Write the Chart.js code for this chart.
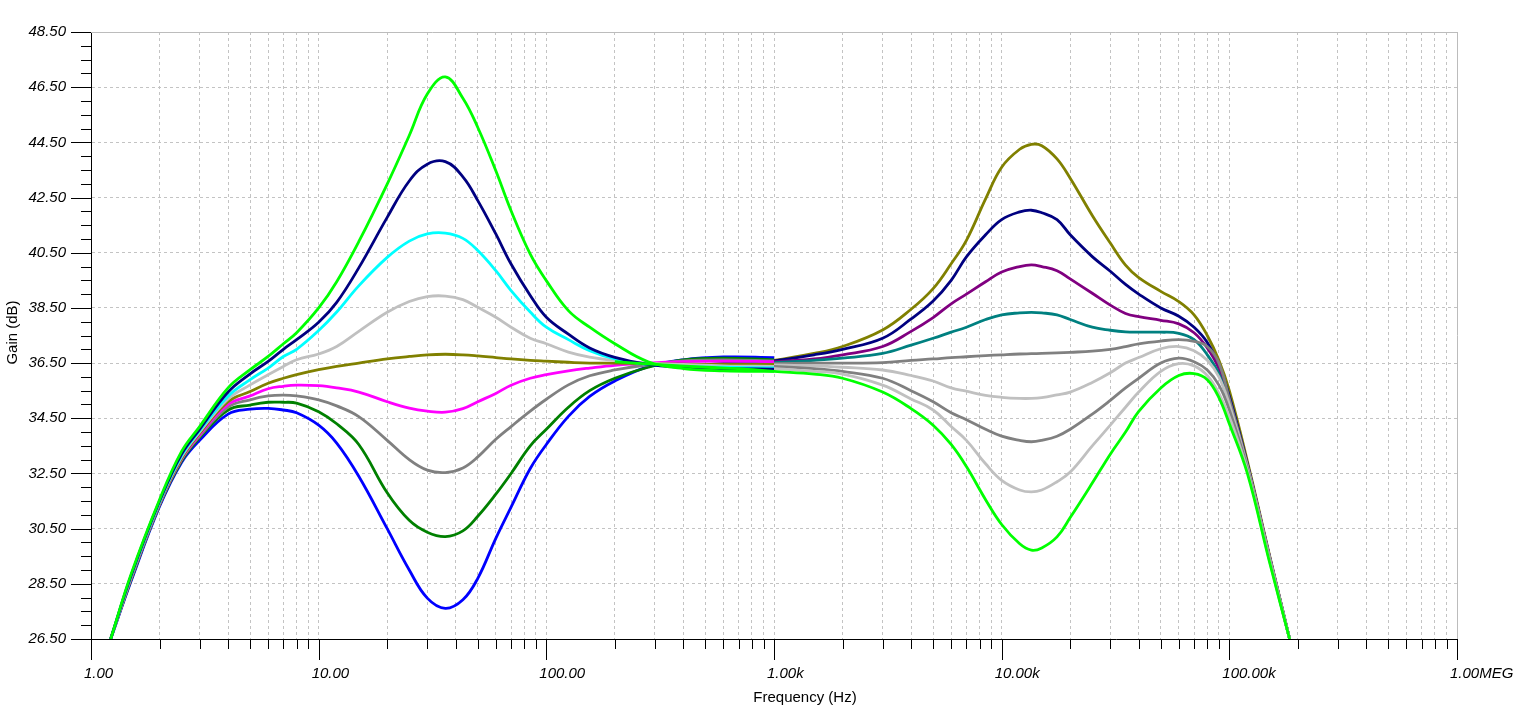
<!DOCTYPE html>
<html lang="ja">
<head>
<meta charset="UTF-8">
<title>Gain (dB) - Frequency (Hz)</title>
<script src="https://cdn.jsdelivr.net/npm/chart.js@4.4.1/dist/chart.umd.min.js"></script>
<style>
    html, body { margin: 0; padding: 0; background: #ffffff; }
    #gainChart { display: block; }
</style>
</head>
<body>
<canvas id="gainChart" width="1518" height="717"></canvas>
<script>
// 周波数（Hz）
const bassFreqs = [1.22, 1.5, 2, 2.5, 3, 4, 5, 6, 7, 8, 10, 12, 15, 20, 25, 30, 36, 43, 50, 60, 70, 85, 100, 125, 155, 200, 280, 400, 600, 1000];
const trebleFreqs = [200, 300, 500, 700, 1000, 1500, 2000, 3000, 4000, 5000, 6000, 7000, 8500, 10000, 12000, 13500, 15000, 17500, 20000, 25000, 30000, 35000, 40000, 50000, 60000, 70000, 80000, 90000, 100000, 120000, 150000, 184000];

// 低域ゲイン（dB）
const bassLime    = [26.5, 28.85, 31.55, 33.3, 34.2, 35.6, 36.26, 36.74, 37.2, 37.6, 38.5, 39.45, 40.9, 42.99, 44.75, 46.25, 46.87, 46.1, 45.04, 43.47, 42.02, 40.45, 39.49, 38.4, 37.8, 37.2, 36.55, 36.3, 36.22, 36.2];
const bassNavy    = [26.5, 28.8, 31.5, 33.2, 34.1, 35.45, 36.11, 36.56, 37.0, 37.35, 37.98, 38.7, 39.95, 41.78, 43.1, 43.71, 43.8, 43.25, 42.39, 41.18, 40.09, 38.95, 38.16, 37.55, 37.05, 36.71, 36.45, 36.35, 36.3, 36.28];
const bassCyan    = [26.5, 28.78, 31.47, 33.15, 34.05, 35.3, 35.9, 36.32, 36.74, 37.0, 37.68, 38.35, 39.3, 40.33, 40.92, 41.18, 41.21, 41.02, 40.58, 39.85, 39.13, 38.35, 37.8, 37.35, 36.95, 36.65, 36.45, 36.38, 36.35, 36.33];
const bassSilver  = [26.5, 28.75, 31.45, 33.1, 34.0, 35.2, 35.71, 36.08, 36.38, 36.62, 36.83, 37.1, 37.65, 38.34, 38.73, 38.91, 38.93, 38.8, 38.52, 38.16, 37.8, 37.4, 37.2, 36.9, 36.72, 36.6, 36.5, 36.45, 36.4, 36.38];
const bassOlive   = [26.5, 28.72, 31.42, 33.05, 33.95, 35.1, 35.47, 35.77, 35.95, 36.08, 36.26, 36.38, 36.5, 36.65, 36.74, 36.8, 36.82, 36.8, 36.76, 36.7, 36.65, 36.6, 36.57, 36.53, 36.5, 36.5, 36.48, 36.46, 36.45, 36.45];
const bassMagenta = [26.5, 28.7, 31.4, 33.02, 33.9, 35.0, 35.31, 35.57, 35.66, 35.7, 35.68, 35.6, 35.45, 35.1, 34.87, 34.76, 34.72, 34.85, 35.1, 35.4, 35.7, 35.95, 36.08, 36.22, 36.32, 36.42, 36.5, 36.55, 36.57, 36.55];
const bassGray    = [26.5, 28.68, 31.37, 33.0, 33.85, 34.9, 35.17, 35.31, 35.34, 35.31, 35.17, 34.95, 34.56, 33.7, 33.0, 32.62, 32.53, 32.7, 33.1, 33.74, 34.2, 34.76, 35.19, 35.71, 36.04, 36.25, 36.44, 36.58, 36.62, 36.58];
const bassGreen   = [26.5, 28.65, 31.35, 32.95, 33.8, 34.8, 34.98, 35.08, 35.08, 35.05, 34.74, 34.3, 33.55, 31.8, 30.8, 30.37, 30.21, 30.42, 30.95, 31.75, 32.5, 33.5, 34.1, 34.9, 35.5, 35.95, 36.35, 36.62, 36.68, 36.62];
const bassBlue    = [26.5, 28.6, 31.3, 32.9, 33.7, 34.65, 34.83, 34.86, 34.8, 34.7, 34.25, 33.6, 32.4, 30.5, 29.0, 27.98, 27.61, 27.92, 28.7, 30.15, 31.28, 32.68, 33.55, 34.57, 35.29, 35.85, 36.37, 36.62, 36.72, 36.7];

// 高域ゲイン（dB）
const trebleOlive   = [36.5, 36.45, 36.45, 36.5, 36.6, 36.85, 37.1, 37.7, 38.45, 39.2, 40.1, 40.95, 42.45, 43.6, 44.25, 44.43, 44.38, 43.9, 43.2, 41.85, 40.85, 40.05, 39.6, 39.1, 38.73, 38.25, 37.5, 36.6, 35.5, 32.95, 29.55, 26.5];
const trebleNavy    = [36.5, 36.45, 36.45, 36.5, 36.58, 36.8, 37.0, 37.4, 38.1, 38.75, 39.5, 40.35, 41.15, 41.7, 41.98, 42.04, 41.95, 41.7, 41.15, 40.36, 39.83, 39.35, 39.0, 38.5, 38.2, 37.8, 37.25, 36.4, 35.3, 32.85, 29.5, 26.5];
const treblePurple  = [36.5, 36.45, 36.45, 36.5, 36.55, 36.65, 36.8, 37.1, 37.65, 38.15, 38.65, 39.0, 39.45, 39.8, 40.0, 40.06, 40.0, 39.85, 39.55, 39.03, 38.6, 38.3, 38.18, 38.05, 37.92, 37.6, 37.05, 36.3, 35.1, 32.8, 29.5, 26.5];
const trebleTeal    = [36.5, 36.45, 36.45, 36.48, 36.52, 36.6, 36.68, 36.85, 37.15, 37.4, 37.62, 37.8, 38.08, 38.25, 38.32, 38.34, 38.32, 38.25, 38.08, 37.8, 37.69, 37.63, 37.62, 37.62, 37.58, 37.35, 36.8, 36.1, 34.95, 32.75, 29.45, 26.5];
const trebleGrayMid = [36.5, 36.45, 36.45, 36.45, 36.48, 36.5, 36.5, 36.52, 36.6, 36.65, 36.7, 36.73, 36.77, 36.8, 36.83, 36.84, 36.85, 36.87, 36.89, 36.93, 37.0, 37.1, 37.2, 37.3, 37.35, 37.29, 37.1, 36.5, 35.2, 32.8, 29.5, 26.5];
const trebleSilverA = [36.5, 36.45, 36.45, 36.45, 36.43, 36.4, 36.35, 36.25, 36.05, 35.85, 35.6, 35.48, 35.33, 35.26, 35.22, 35.22, 35.25, 35.35, 35.45, 35.8, 36.15, 36.5, 36.7, 37.02, 37.1, 36.95, 36.6, 36.0, 35.0, 32.75, 29.45, 26.5];
const trebleGray    = [36.55, 36.45, 36.45, 36.4, 36.38, 36.3, 36.2, 35.95, 35.5, 35.1, 34.7, 34.45, 34.1, 33.85, 33.7, 33.65, 33.7, 33.85, 34.1, 34.65, 35.15, 35.6, 35.95, 36.5, 36.68, 36.55, 36.25, 35.7, 34.8, 32.7, 29.4, 26.5];
const trebleSilverB = [36.55, 36.45, 36.4, 36.35, 36.3, 36.2, 36.1, 35.7, 35.2, 34.8, 34.2, 33.7, 32.85, 32.25, 31.9, 31.83, 31.9, 32.2, 32.55, 33.5, 34.25, 34.9, 35.45, 36.2, 36.48, 36.4, 36.05, 35.4, 34.55, 32.6, 29.35, 26.5];
const trebleLime    = [36.55, 36.45, 36.35, 36.3, 36.2, 36.1, 35.95, 35.45, 34.85, 34.25, 33.55, 32.75, 31.55, 30.65, 29.95, 29.72, 29.8, 30.2, 30.9, 32.15, 33.2, 34.0, 34.75, 35.6, 36.05, 36.12, 35.9, 35.25, 34.3, 32.5, 29.3, 26.5];

// 軸の目盛
const xDecades = [1, 10, 100, 1000, 10000, 100000, 1000000];
const xTickLabels = ['1.00', '10.00', '100.00', '1.00k', '10.00k', '100.00k', '1.00MEG'];
const xMinorSteps = [1, 2, 3, 4, 5, 6, 7, 8, 9];
const yMin = 26.5;
const yMax = 48.5;
const yMajorStep = 2;
const yMinorStep = 0.5;

const GRID_COLOR = '#c3c3c3';
const TICK_FONT = { family: '"Liberation Sans", Arial, sans-serif', size: 15, style: 'italic' };

// ユーティリティ関数
const toPoints = (freqs, values) => freqs.map((f, i) => ({ x: f, y: values[i] }));

const decadeIndex = (value) => xDecades.findIndex(d => Math.abs(Math.log10(value) - Math.log10(d)) < 1e-9);

const isYMajor = (value) => {
    const k = (value - yMin) / yMajorStep;
    return Math.abs(k - Math.round(k)) < 1e-6;
};

const makeLine = (freqs, values, color) => ({
    data: toPoints(freqs, values),
    borderColor: color,
    backgroundColor: color,
    borderWidth: 2.8,
    pointRadius: 0,
    pointHoverRadius: 0,
    fill: false,
    tension: 0.4
});

// 目盛線・枠・軸タイトル
const frameTicksPlugin = {
    id: 'frameTicks',
    afterDraw(chart) {
        const { ctx, chartArea: a, scales: { x, y } } = chart;
        ctx.save();

        // 上と右の枠
        ctx.strokeStyle = '#bcbcbc';
        ctx.lineWidth = 1;
        ctx.beginPath();
        ctx.moveTo(a.left, a.top + 0.5);
        ctx.lineTo(a.right + 0.5, a.top + 0.5);
        ctx.moveTo(a.right + 0.5, a.top);
        ctx.lineTo(a.right + 0.5, a.bottom);
        ctx.stroke();

        // 目盛の刻み
        ctx.strokeStyle = '#000000';
        ctx.beginPath();
        x.ticks.forEach(t => {
            const px = Math.round(x.getPixelForValue(t.value)) + 0.5;
            const len = decadeIndex(t.value) >= 0 ? 21 : 10;
            ctx.moveTo(px, a.bottom);
            ctx.lineTo(px, a.bottom + len);
        });
        y.ticks.forEach(t => {
            const py = Math.round(y.getPixelForValue(t.value)) + 0.5;
            const len = isYMajor(t.value) ? 20 : 10;
            ctx.moveTo(a.left - len, py);
            ctx.lineTo(a.left, py);
        });
        ctx.stroke();

        // 軸タイトル
        ctx.fillStyle = '#000000';
        ctx.font = '15px "Liberation Sans", Arial, sans-serif';
        ctx.textAlign = 'center';
        ctx.textBaseline = 'alphabetic';
        ctx.fillText('Frequency (Hz)', (a.left + a.right) / 2 + 31, a.bottom + 63);

        ctx.translate(16.5, (a.top + a.bottom) / 2 - 3);
        ctx.rotate(-Math.PI / 2);
        ctx.fillText('Gain (dB)', 0, 0);

        ctx.restore();
    }
};

class GainChart {
    constructor(canvasId) {
        this.canvas = document.getElementById(canvasId);
        this.render();
    }

    buildDatasets() {
        // 先頭のデータセットほど手前に描かれる
        return [
            makeLine(bassFreqs, bassLime, '#00ff00'),
            makeLine(trebleFreqs, trebleLime, '#00ff00'),
            makeLine(bassFreqs, bassNavy, '#000080'),
            makeLine(bassFreqs, bassCyan, '#00ffff'),
            makeLine(bassFreqs, bassSilver, '#c0c0c0'),
            makeLine(bassFreqs, bassOlive, '#808000'),
            makeLine(bassFreqs, bassMagenta, '#ff00ff'),
            makeLine(bassFreqs, bassGray, '#808080'),
            makeLine(bassFreqs, bassGreen, '#008000'),
            makeLine(bassFreqs, bassBlue, '#0000ff'),
            makeLine(trebleFreqs, trebleSilverB, '#c0c0c0'),
            makeLine(trebleFreqs, trebleGray, '#808080'),
            makeLine(trebleFreqs, trebleSilverA, '#c0c0c0'),
            makeLine(trebleFreqs, trebleGrayMid, '#808080'),
            makeLine(trebleFreqs, trebleTeal, '#008080'),
            makeLine(trebleFreqs, treblePurple, '#800080'),
            makeLine(trebleFreqs, trebleNavy, '#000080'),
            makeLine(trebleFreqs, trebleOlive, '#808000')
        ];
    }

    render() {
        this.chart = new Chart(this.canvas.getContext('2d'), {
            type: 'line',
            data: { datasets: this.buildDatasets() },
            options: {
                responsive: false,
                animation: false,
                events: [],
                layout: { padding: { left: 0, right: 61, top: 32, bottom: 0 } },
                plugins: {
                    legend: { display: false },
                    tooltip: { enabled: false },
                    title: { display: false }
                },
                scales: {
                    x: {
                        type: 'logarithmic',
                        min: xDecades[0],
                        max: xDecades[xDecades.length - 1],
                        afterBuildTicks: (scale) => {
                            const ticks = [];
                            xDecades.slice(0, -1).forEach(d => {
                                xMinorSteps.forEach(m => ticks.push({ value: m * d }));
                            });
                            ticks.push({ value: xDecades[xDecades.length - 1] });
                            scale.ticks = ticks;
                        },
                        afterFit: (scale) => {
                            scale.height = 78;
                            scale.paddingLeft = 0;
                            scale.paddingRight = 0;
                        },
                        grid: {
                            color: GRID_COLOR,
                            lineWidth: 1,
                            drawTicks: false
                        },
                        border: { display: true, color: '#000000', width: 1, dash: [3, 3] },
                        ticks: {
                            autoSkip: false,
                            maxRotation: 0,
                            minRotation: 0,
                            align: 'start',
                            labelOffset: -7,
                            padding: 26,
                            color: '#000000',
                            font: TICK_FONT,
                            callback: (value) => {
                                const i = decadeIndex(value);
                                return i >= 0 ? xTickLabels[i] : '';
                            }
                        }
                    },
                    y: {
                        type: 'linear',
                        min: yMin,
                        max: yMax,
                        afterFit: (scale) => {
                            scale.width = 91;
                            scale.paddingTop = 0;
                            scale.paddingBottom = 0;
                        },
                        grid: {
                            color: (ctx) => (ctx.tick && isYMajor(ctx.tick.value)) ? GRID_COLOR : 'rgba(0,0,0,0)',
                            lineWidth: 1,
                            drawTicks: false
                        },
                        border: { display: true, color: '#000000', width: 1, dash: [3, 3] },
                        ticks: {
                            stepSize: yMinorStep,
                            autoSkip: false,
                            padding: 25,
                            color: '#000000',
                            font: TICK_FONT,
                            callback: (value) => isYMajor(value) ? value.toFixed(2) : ''
                        }
                    }
                }
            },
            plugins: [frameTicksPlugin]
        });
    }
}

// ページ読み込み時に実行
document.addEventListener('DOMContentLoaded', () => {
    new GainChart('gainChart');
});
</script>
</body>
</html>
